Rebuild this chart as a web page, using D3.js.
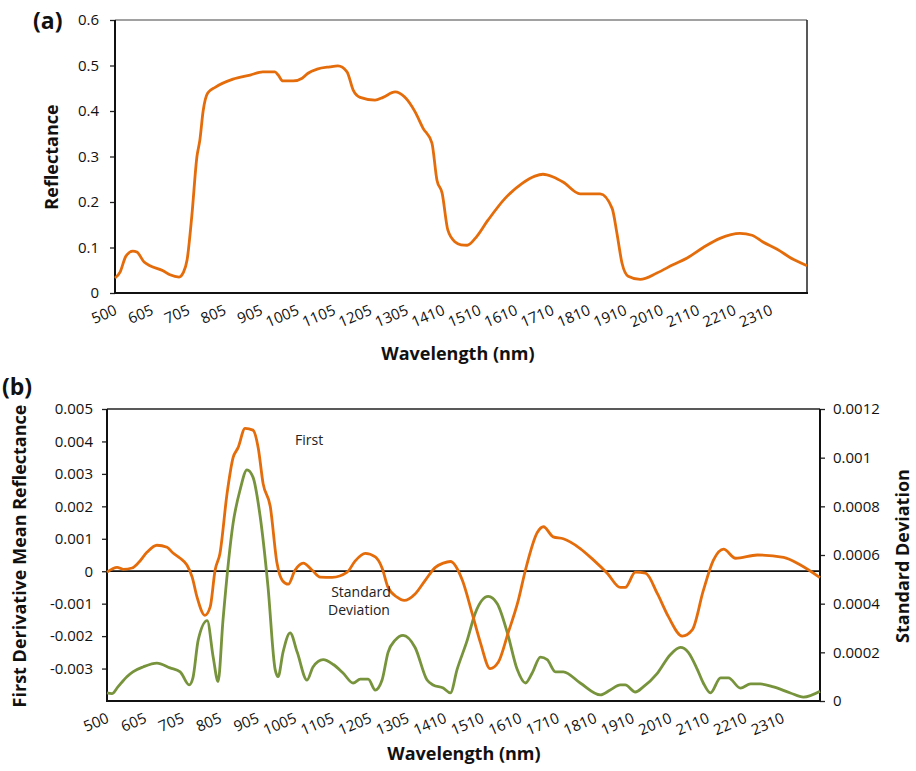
<!DOCTYPE html>
<html>
<head>
<meta charset="utf-8">
<script src="https://cdn.jsdelivr.net/npm/d3@7"></script>
<style>
  body { margin: 0; background: #fff; }
  svg { font-family: "Open Sans", sans-serif; }
</style>
</head>
<body>
<div id="chart-container"></div>
<script>
// x tick labels (same for both panels)
const tickLabels = ["500", "605", "705", "805", "905", "1005", "1105", "1205", "1305", "1410",
  "1510", "1610", "1710", "1810", "1910", "2010", "2110", "2210", "2310"];

// panel (a): mean reflectance
const reflWl = [500, 514, 530, 549, 560, 580, 596, 632, 651, 676, 687, 698, 711, 725, 733, 742, 755, 775,
  824, 871, 906, 939, 948, 961, 989, 1014, 1030, 1055, 1090, 1112, 1137, 1154, 1173, 1214, 1236, 1269,
  1296, 1324, 1346, 1370, 1384, 1398, 1414, 1434, 1450, 1467, 1489, 1524, 1571, 1618, 1653, 1675, 1703,
  1730, 1777, 1832, 1865, 1878, 1892, 1909, 1942, 1988, 2032, 2071, 2115, 2161, 2216, 2249, 2279, 2318,
  2362, 2400];
const reflVal = [0.033, 0.046, 0.081, 0.092, 0.09, 0.068, 0.06, 0.049, 0.04, 0.035, 0.044, 0.073, 0.17,
  0.30, 0.336, 0.40, 0.44, 0.452, 0.47, 0.479, 0.486, 0.486, 0.479, 0.466, 0.466, 0.472, 0.483, 0.492,
  0.497, 0.499, 0.486, 0.446, 0.43, 0.424, 0.43, 0.442, 0.43, 0.398, 0.362, 0.33, 0.248, 0.22, 0.138,
  0.112, 0.106, 0.105, 0.12, 0.16, 0.208, 0.241, 0.257, 0.261, 0.255, 0.244, 0.218, 0.218, 0.186, 0.132,
  0.066, 0.037, 0.03, 0.044, 0.062, 0.077, 0.1, 0.12, 0.131, 0.127, 0.112, 0.096, 0.074, 0.06];

// panel (b): first derivative (left axis)
const derivWl = [500, 527, 543, 567, 583, 607, 633, 660, 676, 695, 713, 727, 740, 761, 775, 788, 801, 820,
  836, 849, 868, 889, 903, 916, 935, 953, 967, 983, 1001, 1023, 1047, 1068, 1100, 1140, 1161, 1188, 1215,
  1233, 1249, 1273, 1292, 1321, 1348, 1375, 1396, 1415, 1447, 1473, 1495, 1521, 1543, 1569, 1596,
  1615, 1647, 1663, 1689, 1716, 1761, 1796, 1833, 1868, 1881, 1908, 1935, 1967, 1996, 2033, 2060, 2089,
  2116, 2143, 2175, 2233, 2303, 2348, 2400];
const derivVal = [-0.00003, 0.00012, 0.00006, 0.0001, 0.00025, 0.00059, 0.0008, 0.00074, 0.00056, 0.0004,
  0.00019, -0.00018, -0.0008, -0.00136, -0.0011, 0.00003, 0.00055, 0.0024, 0.0035, 0.0038, 0.0044,
  0.00435, 0.0038, 0.0027, 0.002, 0.00025, -0.00028, -0.0004, 0.00003, 0.00025, 0.00003, -0.00018,
  -0.00019, -0.00003, 0.00031, 0.00055, 0.00044, 0.0001, -0.0005, -0.0008, -0.0009, -0.0007, -0.00028,
  0.00012, 0.00025, 0.0003, -0.00028, -0.0013, -0.0022, -0.003, -0.0028, -0.0019, -0.0009,
  0.00003, 0.0012, 0.00137, 0.00106, 0.001, 0.0007, 0.00035, -0.00006, -0.0005, -0.0005, -0.00003,
  -0.00006, -0.0007, -0.0014, -0.002, -0.0018, -0.0006, 0.00034, 0.00068, 0.0004, 0.0005, 0.00043,
  0.00019, -0.0002];

// panel (b): standard deviation (right axis)
const sdWl = [500, 513, 529, 553, 569, 596, 633, 668, 695, 719, 729, 743, 767, 783, 796, 809, 836, 855, 873,
  889, 908, 929, 948, 956, 969, 988, 1007, 1033, 1049, 1076, 1103, 1129, 1156, 1175, 1196, 1215, 1233,
  1249, 1268, 1289, 1321, 1353, 1369, 1396, 1415, 1433, 1460, 1481, 1516, 1540, 1567, 1593, 1615, 1633,
  1655, 1673, 1695, 1716, 1761, 1815, 1841, 1868, 1881, 1908, 1929, 1967, 2001, 2028, 2049, 2073, 2089,
  2108, 2135, 2156, 2188, 2215, 2241, 2276, 2321, 2356, 2400];
const sdVal = [0.000033, 0.00003, 0.000058, 0.0001, 0.00012, 0.00014, 0.000156, 0.000136, 0.00012, 0.000066,
  0.000095, 0.00025, 0.00033, 0.00018, 0.00008, 0.00033, 0.00073, 0.00087, 0.00095, 0.00092, 0.00076,
  0.00047, 0.00013, 0.0001, 0.0002, 0.00028, 0.0002, 0.000086, 0.00014, 0.00017, 0.00015, 0.000115,
  0.000074, 0.00009, 0.00009, 0.000045, 0.000086, 0.0002, 0.00025, 0.00027, 0.00022, 0.000086, 0.000066,
  0.000053, 0.000033, 0.00013, 0.00025, 0.00036, 0.00043, 0.0004, 0.00028, 0.00013, 0.000074, 0.000115,
  0.00018, 0.00017, 0.00012, 0.00012, 0.000074, 0.000025, 0.000045, 0.000066, 0.000066, 0.000037,
  0.000058, 0.000115, 0.00019, 0.00022, 0.0002, 0.00013, 0.000074, 0.000033, 0.000095, 0.000095,
  0.000053, 0.00007, 0.00007, 0.000058, 0.000033, 0.000016, 0.00004];

const reflTicks = [0, 0.1, 0.2, 0.3, 0.4, 0.5, 0.6];
const derivTicks = [-0.003, -0.002, -0.001, 0, 0.001, 0.002, 0.003, 0.004, 0.005];
const sdTicks = [0, 0.0002, 0.0004, 0.0006, 0.0008, 0.001, 0.0012];

const orange = "#E46C0A";
const green = "#77933C";

const svg = d3.select("#chart-container")
  .append("svg")
  .attr("width", 916)
  .attr("height", 771);

// rotated wavelength labels under an x scale
function xLabels(g, x, y0) {
  g.selectAll("text.xl")
    .data(tickLabels)
    .enter()
    .append("text")
    .attr("class", "xl")
    .attr("transform", (d, i) => "translate(" + (x(500 + i * 100) + 3) + "," + (y0 + 21) + ")rotate(-23)")
    .style("text-anchor", "end")
    .style("font-size", "15px")
    .style("fill", "#111")
    .text(d => d);
}

function styleAxis(g) {
  g.select(".domain").remove();
  g.selectAll(".tick line").attr("stroke", "#222").attr("stroke-width", 1.3);
  g.selectAll(".tick text").style("font-size", "15px").style("fill", "#111")
    .style("font-family", "'Open Sans', sans-serif");
}

// ---------- panel (a) ----------
const xa = d3.scaleLinear().domain([500, 2400]).range([115, 807]);
const ya = d3.scaleLinear().domain([0, 0.6]).range([293, 20]);
const ga = svg.append("g");

// frame
ga.append("line").attr("x1", 115).attr("x2", 807).attr("y1", 20).attr("y2", 20)
  .attr("stroke", "#444").attr("stroke-width", 1.2);
ga.append("line").attr("x1", 807).attr("x2", 807).attr("y1", 20).attr("y2", 293)
  .attr("stroke", "#222").attr("stroke-width", 1.5);

ga.append("g")
  .attr("transform", "translate(115,0)")
  .call(d3.axisLeft(ya).tickValues(reflTicks).tickSize(5).tickPadding(11)
    .tickFormat(d => d === 0 ? "0" : d3.format(".1f")(d)))
  .call(styleAxis);

ga.append("line").attr("x1", 115).attr("x2", 115).attr("y1", 20).attr("y2", 294)
  .attr("stroke", "#111").attr("stroke-width", 2);
ga.append("line").attr("x1", 114).attr("x2", 808).attr("y1", 293).attr("y2", 293)
  .attr("stroke", "#111").attr("stroke-width", 2);

ga.append("path")
  .datum(reflWl.map((w, i) => [w, reflVal[i]]))
  .attr("fill", "none")
  .attr("stroke", orange)
  .attr("stroke-width", 2.8)
  .attr("d", d3.line().x(d => xa(d[0])).y(d => ya(d[1])).curve(d3.curveMonotoneX));

xLabels(ga, xa, 293);

ga.append("text").attr("x", 458).attr("y", 360).style("text-anchor", "middle")
  .style("font-size", "18px").style("font-weight", "bold").style("fill", "#111")
  .text("Wavelength (nm)");
ga.append("text").attr("transform", "translate(58,157)rotate(-90)").style("text-anchor", "middle")
  .style("font-size", "18px").style("font-weight", "bold").style("fill", "#111")
  .text("Reflectance");
ga.append("text").attr("x", 33).attr("y", 29)
  .style("font-size", "23px").style("font-weight", "bold").style("fill", "#111")
  .text("(a)");

// ---------- panel (b) ----------
const xb = d3.scaleLinear().domain([500, 2400]).range([107, 820]);
const yl = d3.scaleLinear().domain([-0.004, 0.005]).range([701, 409]);
const yr = d3.scaleLinear().domain([0, 0.0012]).range([701, 409]);
const gb = svg.append("g");

gb.append("line").attr("x1", 107).attr("x2", 820).attr("y1", 409).attr("y2", 409)
  .attr("stroke", "#222").attr("stroke-width", 1.3);

gb.append("g")
  .attr("transform", "translate(107,0)")
  .call(d3.axisLeft(yl).tickValues(derivTicks).tickSize(5).tickPadding(9)
    .tickFormat(d => d === 0 ? "0" : d3.format(".3f")(d).replace("−", "-")))
  .call(styleAxis);

gb.append("g")
  .attr("transform", "translate(820,0)")
  .call(d3.axisRight(yr).tickValues(sdTicks).tickSize(5).tickPadding(8)
    .tickFormat(d => d === 0 ? "0" : String(+d.toFixed(4))))
  .call(styleAxis);

gb.append("line").attr("x1", 107).attr("x2", 107).attr("y1", 409).attr("y2", 702)
  .attr("stroke", "#111").attr("stroke-width", 2);
gb.append("line").attr("x1", 820).attr("x2", 820).attr("y1", 409).attr("y2", 702)
  .attr("stroke", "#111").attr("stroke-width", 2);
gb.append("line").attr("x1", 106).attr("x2", 821).attr("y1", 701).attr("y2", 701)
  .attr("stroke", "#111").attr("stroke-width", 2);
// zero line
gb.append("line").attr("x1", 107).attr("x2", 820).attr("y1", yl(0)).attr("y2", yl(0))
  .attr("stroke", "#111").attr("stroke-width", 1.8);

gb.append("path")
  .datum(sdWl.map((w, i) => [w, sdVal[i]]))
  .attr("fill", "none")
  .attr("stroke", green)
  .attr("stroke-width", 2.8)
  .attr("d", d3.line().x(d => xb(d[0])).y(d => yr(d[1])).curve(d3.curveMonotoneX));

gb.append("path")
  .datum(derivWl.map((w, i) => [w, derivVal[i]]))
  .attr("fill", "none")
  .attr("stroke", orange)
  .attr("stroke-width", 2.8)
  .attr("d", d3.line().x(d => xb(d[0])).y(d => yl(d[1])).curve(d3.curveMonotoneX));

xLabels(gb, xb, 701);

gb.append("text").attr("x", 295).attr("y", 445)
  .style("font-size", "14px").style("fill", "#222").text("First");
gb.append("text").attr("x", 361).attr("y", 597).style("text-anchor", "middle")
  .style("font-size", "14px").style("fill", "#222").text("Standard");
gb.append("text").attr("x", 359).attr("y", 615).style("text-anchor", "middle")
  .style("font-size", "14px").style("fill", "#222").text("Deviation");

gb.append("text").attr("x", 464).attr("y", 760).style("text-anchor", "middle")
  .style("font-size", "18px").style("font-weight", "bold").style("fill", "#111")
  .text("Wavelength (nm)");
gb.append("text").attr("transform", "translate(26,556)rotate(-90)").style("text-anchor", "middle")
  .style("font-size", "18px").style("font-weight", "bold").style("fill", "#111")
  .text("First Derivative Mean Reflectance");
gb.append("text").attr("transform", "translate(909,556)rotate(-90)").style("text-anchor", "middle")
  .style("font-size", "18px").style("font-weight", "bold").style("fill", "#111")
  .text("Standard Deviation");
gb.append("text").attr("x", 2).attr("y", 395)
  .style("font-size", "23px").style("font-weight", "bold").style("fill", "#111")
  .text("(b)");
</script>
</body>
</html>
